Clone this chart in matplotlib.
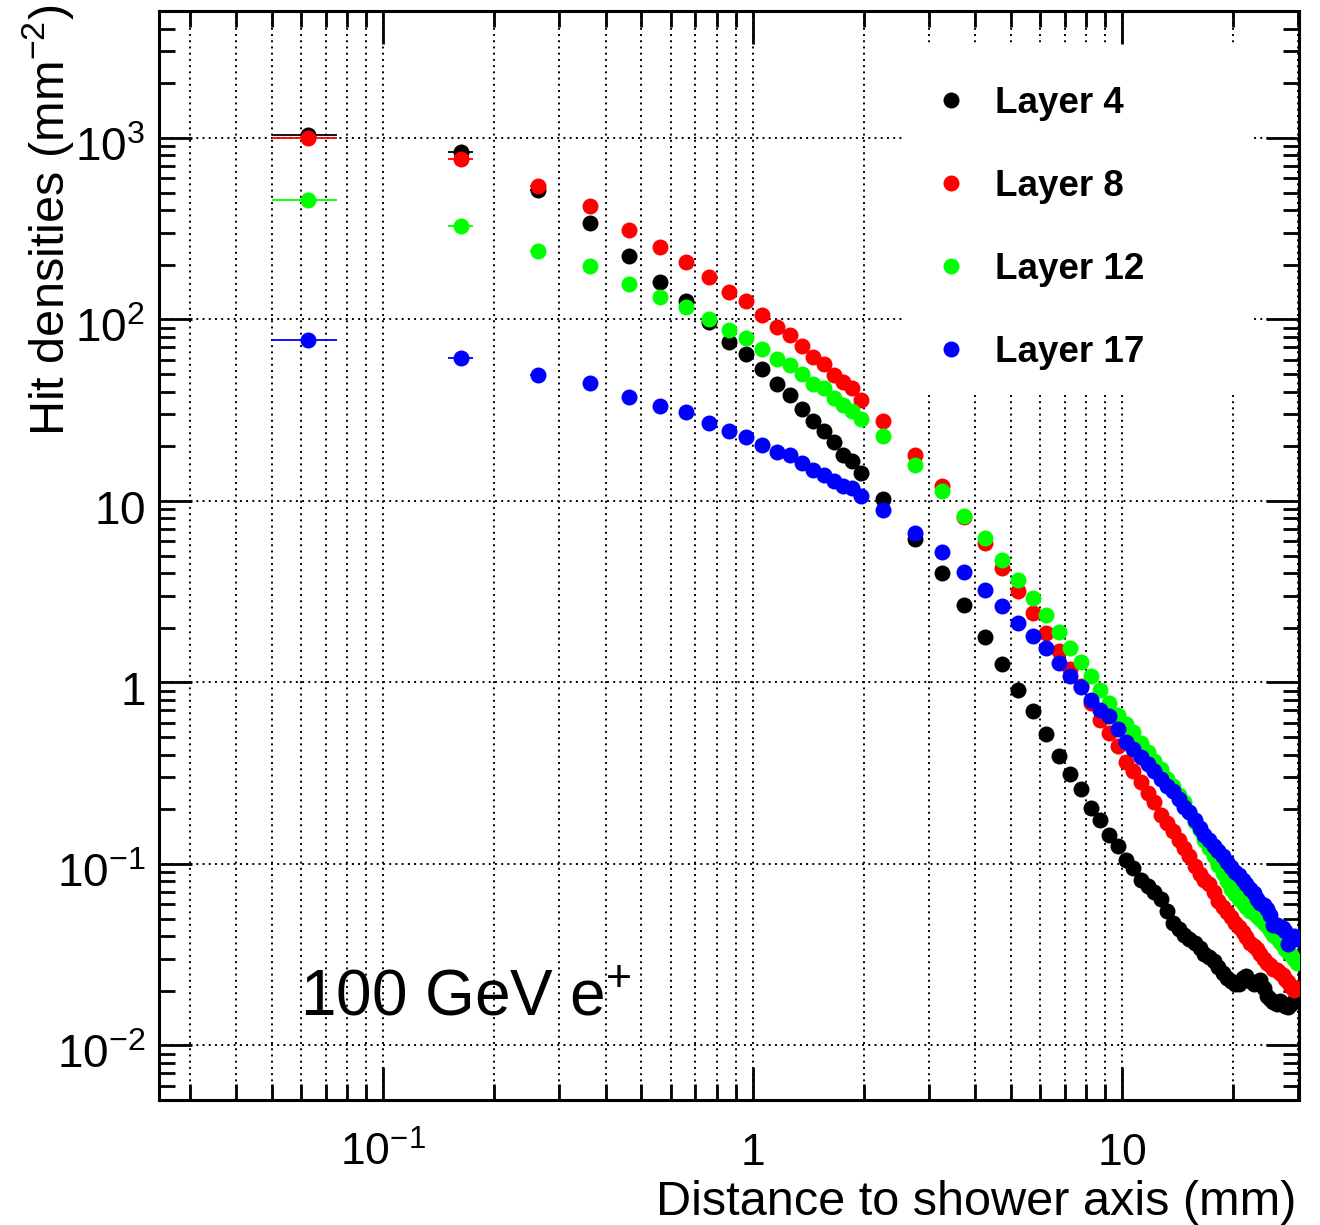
import matplotlib
matplotlib.use('Agg')
import numpy as np
import matplotlib.pyplot as plt
from matplotlib.lines import Line2D
from matplotlib.patches import Rectangle
from matplotlib.ticker import LogLocator, NullFormatter
from matplotlib.transforms import ScaledTranslation

plt.rcParams['font.family'] = ['Liberation Sans', 'DejaVu Sans']
plt.rcParams['mathtext.fontset'] = 'custom'
plt.rcParams['mathtext.rm'] = 'Liberation Sans'
plt.rcParams['mathtext.it'] = 'Liberation Sans:italic'
plt.rcParams['mathtext.bf'] = 'Liberation Sans:bold'

# distance to shower axis (mm), bin centres
distance = [0.0625, 0.1625, 0.2625, 0.3625, 0.4625, 0.5625, 0.6625, 0.7625,
            0.8625, 0.9625, 1.0625, 1.1625, 1.2625, 1.3625, 1.4625, 1.5625,
            1.6625, 1.7625, 1.8625, 1.9625,
            2.25, 2.75, 3.25, 3.75, 4.25, 4.75, 5.25, 5.75, 6.25, 6.75,
            7.25, 7.75, 8.25, 8.75, 9.25, 9.75, 10.25, 10.75, 11.25, 11.75,
            12.25, 12.75, 13.25, 13.75, 14.25, 14.75, 15.25, 15.75, 16.25, 16.75,
            17.25, 17.75, 18.25, 18.75, 19.25, 19.75, 20.25, 20.75, 21.25, 21.75,
            22.25, 22.75, 23.25, 23.75, 24.25, 24.75, 25.25, 25.75, 26.25, 26.75,
            27.25, 27.75, 28.25, 28.75, 29.25, 29.75]
x_err = 0.0125

layer4 = [1040, 841, 513, 339, 222, 161, 127, 97.3, 75.5, 64.7,
          53.3, 44.2, 38.1, 32.1, 27.4, 24.4, 21.0, 17.9, 16.5, 14.3,
          10.2, 6.13, 4.0, 2.66, 1.78, 1.26, 0.905, 0.693, 0.522, 0.395,
          0.311, 0.257, 0.204, 0.175, 0.145, 0.125,
          0.1045, 0.0944, 0.0820, 0.0752, 0.0697, 0.0644, 0.0547, 0.0470, 0.0436, 0.0408,
          0.0384, 0.0365, 0.0342, 0.0317, 0.0305, 0.0290, 0.0269, 0.0249, 0.0234, 0.0225,
          0.0217, 0.0219, 0.0234, 0.0240, 0.0225, 0.0217, 0.0222, 0.0228, 0.0208, 0.0188,
          0.0179, 0.0173, 0.0170, 0.0175, 0.0170, 0.0164, 0.0162, 0.0168, 0.0175, 0.0179]

layer8 = [995, 764, 545, 423, 311, 249, 208, 171, 141, 126,
          106, 90.8, 81.9, 70.9, 62.0, 56.7, 49.6, 45.0, 41.7, 36.1,
          27.4, 17.8, 12.0, 8.2, 5.87, 4.27, 3.17, 2.41, 1.87, 1.48,
          1.18, 0.95, 0.773, 0.624, 0.528, 0.445,
          0.366, 0.323, 0.281, 0.247, 0.218, 0.187, 0.167, 0.151, 0.135, 0.122,
          0.110, 0.0968, 0.0875, 0.0820, 0.0771, 0.0697, 0.0621, 0.0582, 0.0540, 0.0507,
          0.0475, 0.0447, 0.0419, 0.0394, 0.0365, 0.0351, 0.0338, 0.0317, 0.0298, 0.0286,
          0.0276, 0.0265, 0.0259, 0.0252, 0.0243, 0.0231, 0.0222, 0.0211, 0.0203, 0.0208]

layer12 = [456, 325, 239, 198, 157, 133, 117, 100.5, 86.9, 79.3,
           68.7, 60.5, 55.7, 50.0, 44.2, 41.9, 36.9, 33.9, 31.4, 28.3,
           22.7, 15.7, 11.3, 8.30, 6.25, 4.75, 3.68, 2.92, 2.36, 1.89,
           1.54, 1.30, 1.08, 0.913, 0.773, 0.665,
           0.59, 0.530, 0.466, 0.411, 0.371, 0.335, 0.295, 0.267, 0.241, 0.218,
           0.194, 0.171, 0.153, 0.136, 0.123, 0.110, 0.098, 0.0885, 0.080, 0.0731,
           0.0678, 0.0637, 0.0605, 0.0582, 0.0553, 0.0533, 0.0513, 0.0494, 0.0470, 0.0452,
           0.0430, 0.0408, 0.0388, 0.0369, 0.0356, 0.0338, 0.0325, 0.0313, 0.0298, 0.0283]

layer17 = [76.6, 61.2, 49.5, 44.6, 37.4, 33.4, 31.0, 26.9, 24.4, 22.5,
           20.3, 18.7, 17.8, 16.2, 14.7, 13.9, 12.8, 12.1, 11.7, 10.6,
           8.87, 6.68, 5.24, 4.05, 3.24, 2.63, 2.13, 1.81, 1.54, 1.28,
           1.08, 0.946, 0.804, 0.708, 0.651, 0.550,
           0.472, 0.432, 0.390, 0.357, 0.323, 0.292, 0.270, 0.251, 0.229, 0.205,
           0.192, 0.175, 0.158, 0.145, 0.136, 0.126, 0.117, 0.110, 0.102, 0.0955,
           0.0897, 0.0863, 0.0820, 0.0771, 0.0731, 0.0687, 0.0644, 0.0612, 0.0590, 0.0561,
           0.0520, 0.0463, 0.0458, 0.0447, 0.0441, 0.0424, 0.0360, 0.0384, 0.0398, 0.0384]

labels = ['Layer 4', 'Layer 8', 'Layer 12', 'Layer 17']
colors = ['#000000', '#ff0000', '#00ff00', '#0000ff']
series = [layer4, layer8, layer12, layer17]

y_ticks = [0.01, 0.1, 1, 10, 100, 1000]
y_ticklabels = ['$10^{-2}$', '$10^{-1}$', '$1$', '$10$', '$10^{2}$', '$10^{3}$']
x_ticks = [0.1, 1, 10]
x_ticklabels = ['$10^{-1}$', '$1$', '$10$']

fig = plt.figure(figsize=(13.2, 12.25), dpi=100)
ax = fig.add_axes([159 / 1320, 1 - 1100 / 1225, 1140 / 1320, 1089 / 1225])
ax.set_xscale('log')
ax.set_yscale('log')
ax.set_xlim(0.0247, 30.2)
ax.set_ylim(0.005, 5000)

for i, (vals, c) in enumerate(zip(series, colors)):
    ax.errorbar(distance, vals, xerr=x_err, fmt='o', color=c, ms=11.5, mew=0,
                elinewidth=1.3, capsize=0, zorder=3 + i)

# grid: every x tick, only decades in y
ax.set_axisbelow(True)
dots = (0, (1, 2.2))
ax.grid(True, which='major', axis='both', color='black', lw=1.4, linestyle=dots)
ax.grid(True, which='minor', axis='x', color='black', lw=1.4, linestyle=dots)

ax.xaxis.set_minor_locator(LogLocator(base=10, subs=np.arange(2, 10), numticks=100))
ax.yaxis.set_minor_locator(LogLocator(base=10, subs=np.arange(2, 10), numticks=100))
ax.xaxis.set_minor_formatter(NullFormatter())
ax.yaxis.set_minor_formatter(NullFormatter())
ax.set_xticks(x_ticks, labels=x_ticklabels)
ax.set_yticks(y_ticks, labels=y_ticklabels)

ax.tick_params(which='both', direction='in', top=True, right=True, width=2)
ax.tick_params(which='major', length=24)
ax.tick_params(which='minor', length=11.5)
ax.tick_params(axis='y', labelsize=33, pad=10)
ax.tick_params(axis='x', labelsize=32, pad=47)
for lab in ax.get_xticklabels():
    lab.set_verticalalignment('baseline')
shift = ScaledTranslation(0, -6 / 100, fig.dpi_scale_trans)
for lab in ax.get_yticklabels():
    lab.set_transform(lab.get_transform() + shift)
for sp in ax.spines.values():
    sp.set_linewidth(2.2)

# white legend area hides the grid
ax.add_patch(Rectangle((0.654, 0.647), 0.305, 0.322, transform=ax.transAxes,
                       facecolor='white', edgecolor='none', zorder=1))
handles = [Line2D([], [], ls='none', marker='o', color=c, ms=11.5, mew=0) for c in colors]
ax.legend(handles, labels, loc='upper left', bbox_to_anchor=(0.6786, 0.931),
          frameon=False, prop={'weight': 'bold', 'size': 26.5}, handlelength=1.0,
          handletextpad=0.7, labelspacing=1.3, borderpad=0, borderaxespad=0)

ax.text(0.1237, 0.078, '100 GeV e$^{+}$', transform=ax.transAxes, fontsize=46,
        ha='left', va='baseline')
ax.text(0.998, -0.1056, 'Distance to shower axis (mm)', transform=ax.transAxes,
        fontsize=35, ha='right', va='baseline')
ax.text(-0.0974, 1.006, 'Hit densities (mm$^{-2}$)', transform=ax.transAxes,
        fontsize=35, rotation=90, ha='center', va='top')

fig.savefig('out.png', dpi=100)
